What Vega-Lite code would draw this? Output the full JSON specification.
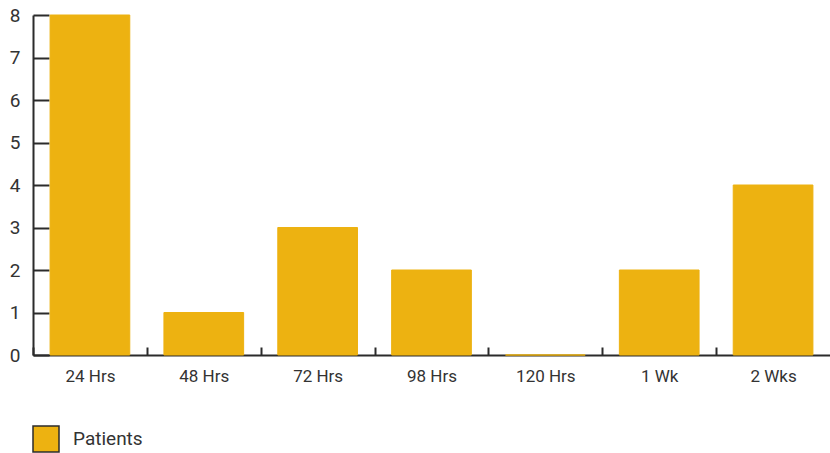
{
  "$schema": "https://vega.github.io/schema/vega-lite/v6.json",
  "autosize": "none",
  "width": 797,
  "height": 340,
  "padding": {"left": 33, "top": 15, "right": 0, "bottom": 98},
  "background": "white",
  "config": {
    "view": {"stroke": null},
    "font": "Roboto"
  },
  "data": {
    "values": [
      {"time": "24 Hrs", "patients": 8, "series": "Patients"},
      {"time": "48 Hrs", "patients": 1, "series": "Patients"},
      {"time": "72 Hrs", "patients": 3, "series": "Patients"},
      {"time": "98 Hrs", "patients": 2, "series": "Patients"},
      {"time": "120 Hrs", "patients": 0, "series": "Patients"},
      {"time": "1 Wk", "patients": 2, "series": "Patients"},
      {"time": "2 Wks", "patients": 4, "series": "Patients"}
    ]
  },
  "mark": {"type": "bar", "stroke": "#EDB211", "strokeWidth": 1},
  "encoding": {
    "x": {
      "field": "time",
      "type": "nominal",
      "sort": null,
      "scale": {"paddingInner": 0.3, "paddingOuter": 0.15},
      "axis": {
        "title": null,
        "labelAngle": 0,
        "labelFont": "Roboto",
        "labelFontSize": 17,
        "labelColor": "#333333",
        "labelPadding": 29,
        "labelBaseline": "middle",
        "domainColor": "#2b2b2b",
        "domainWidth": 2,
        "tickColor": "#2b2b2b",
        "tickWidth": 2,
        "tickSize": -8,
        "tickOffset": -57,
        "labelOffset": 57
      }
    },
    "y": {
      "field": "patients",
      "type": "quantitative",
      "scale": {"domain": [0, 8]},
      "axis": {
        "title": null,
        "values": [0, 1, 2, 3, 4, 5, 6, 7, 8],
        "labelOverlap": false,
        "labelFlush": false,
        "grid": false,
        "labelFont": "Roboto",
        "labelFontSize": 19,
        "labelColor": "#333333",
        "labelPadding": 29,
        "domainColor": "#2b2b2b",
        "domainWidth": 2,
        "tickColor": "#2b2b2b",
        "tickWidth": 2,
        "tickSize": -16
      }
    },
    "color": {
      "field": "series",
      "type": "nominal",
      "scale": {"range": ["#EDB211"]},
      "legend": {
        "title": null,
        "orient": "none",
        "legendX": -1,
        "legendY": 410,
        "symbolType": "square",
        "symbolSize": 676,
        "symbolStrokeColor": "#2b2b2b",
        "symbolStrokeWidth": 1.5,
        "labelFont": "Roboto",
        "labelFontSize": 19,
        "labelColor": "#333333",
        "labelOffset": 13
      }
    }
  }
}
